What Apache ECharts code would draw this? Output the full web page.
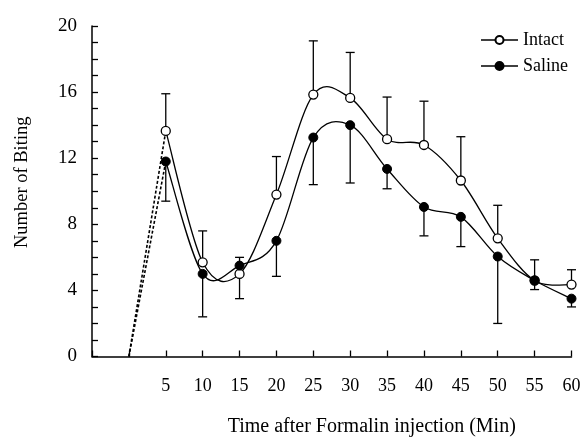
<!DOCTYPE html>
<html>
<head>
<meta charset="utf-8">
<script src="https://cdn.jsdelivr.net/npm/echarts@6/dist/echarts.min.js"></script>
<style>html,body{margin:0;padding:0;background:#fff}#c{width:581px;height:437px}</style>
</head>
<body>
<div id="c"></div>
<script>
var times = [5, 10, 15, 20, 25, 30, 35, 40, 45, 50, 55, 60];
var intact = [13.65, 5.7, 5.0, 9.8, 15.85, 15.65, 13.15, 12.8, 10.65, 7.15, 4.6, 4.35];
var intactErrTop = [15.9, 7.6, 6.0, 12.1, 19.1, 18.4, 15.7, 15.45, 13.3, 9.15, 5.85, 5.25];
var saline = [11.8, 5.0, 5.5, 7.0, 13.25, 14.0, 11.35, 9.05, 8.45, 6.05, 4.6, 3.5];
var salineErrBottom = [9.4, 2.4, 3.5, 4.85, 10.4, 10.5, 10.15, 7.3, 6.65, 2.0, 4.05, 3.0];
var origin = [0, 0];

var font = '"Liberation Serif", "Times New Roman", serif';

function pairs(xs, ys) { return xs.map(function (x, i) { return [x, ys[i]]; }); }

var errData = [];
times.forEach(function (t, i) {
  errData.push([t, intact[i], intactErrTop[i]]);
  errData.push([t, saline[i], salineErrBottom[i]]);
});

// Catmull-Rom style smooth curve drawn through the axis scales
function splineSeries(name, ys) {
  return {
    type: 'custom', name: name + '-curve', silent: true, z: 2,
    data: pairs(times, ys),
    encode: {x: 0, y: 1},
    renderItem: function (params, api) {
      var i = params.dataIndex;
      var n = times.length;
      if (i >= n - 1) return null;
      var P = function (k) {
        k = Math.max(0, Math.min(n - 1, k));
        return api.coord([times[k], ys[k]]);
      };
      var p0 = P(i - 1), p1 = P(i), p2 = P(i + 1), p3 = P(i + 2);
      var t = 1 / 6;
      var c1 = [p1[0] + (p2[0] - p0[0]) * t, p1[1] + (p2[1] - p0[1]) * t];
      var c2 = [p2[0] - (p3[0] - p1[0]) * t, p2[1] - (p3[1] - p1[1]) * t];
      return {
        type: 'bezierCurve',
        shape: {x1: p1[0], y1: p1[1], x2: p2[0], y2: p2[1], cpx1: c1[0], cpy1: c1[1], cpx2: c2[0], cpy2: c2[1]},
        style: {stroke: '#000', lineWidth: 1.3, fill: null}
      };
    }
  };
}

var chart = echarts.init(document.getElementById('c'), null, {renderer: 'canvas'});
chart.setOption({
  animation: false,
  backgroundColor: '#fff',
  textStyle: {fontFamily: font, color: '#000'},
  grid: {left: 92, right: 9.5, top: 26, bottom: 80.5, containLabel: false, outerBoundsMode: 'none'},
  legend: {
    right: 8, top: 26, orient: 'vertical', itemWidth: 37, itemHeight: 10, itemGap: 8,
    textStyle: {fontFamily: font, fontSize: 18, color: '#000'},
    lineStyle: {color: '#000', width: 1.3, opacity: 1},
    data: ['Intact', 'Saline']
  },
  xAxis: {
    type: 'value', min: -5, max: 60, interval: 5,
    name: 'Time after Formalin injection (Min)', nameLocation: 'middle', nameGap: 60,
    nameTextStyle: {fontFamily: font, fontSize: 20, color: '#000', padding: [0, 0, 0, 80]},
    axisLine: {lineStyle: {color: '#000', width: 1.5}},
    axisTick: {inside: true, length: 6, lineStyle: {color: '#000', width: 1.3}},
    axisLabel: {margin: 21, fontFamily: font, fontSize: 18, color: '#000',
      formatter: function (v) { return v > 0 ? String(v) : ''; }},
    splitLine: {show: false}
  },
  yAxis: {
    type: 'value', min: 0, max: 20, interval: 1,
    name: 'Number of Biting', nameLocation: 'middle', nameGap: 60,
    nameTextStyle: {fontFamily: font, fontSize: 18.5, color: '#000', padding: [0, 0, 0, 18]},
    axisLine: {show: true, onZero: false, lineStyle: {color: '#000', width: 1.5}},
    axisTick: {inside: true, length: 6, lineStyle: {color: '#000', width: 1.3}},
    axisLabel: {margin: 15, fontFamily: font, fontSize: 19, color: '#000',
      formatter: function (v) { return v % 4 === 0 ? String(v) : ''; }},
    splitLine: {show: false}
  },
  series: [
    {
      type: 'custom', name: 'err', silent: true, z: 1,
      data: errData,
      encode: {x: 0, y: [1, 2]},
      renderItem: function (params, api) {
        var p1 = api.coord([api.value(0), api.value(1)]);
        var p2 = api.coord([api.value(0), api.value(2)]);
        var hw = 4.5;
        var st = {stroke: '#000', lineWidth: 1.3};
        return {type: 'group', children: [
          {type: 'line', shape: {x1: p1[0], y1: p1[1], x2: p2[0], y2: p2[1]}, style: st},
          {type: 'line', shape: {x1: p2[0] - hw, y1: p2[1], x2: p2[0] + hw, y2: p2[1]}, style: st}
        ]};
      }
    },
    {
      type: 'line', name: 'dotI', silent: true, z: 2, symbol: 'none',
      data: [origin, [times[0], intact[0]]],
      lineStyle: {color: '#000', width: 1.6, type: [3, 2]}
    },
    {
      type: 'line', name: 'dotS', silent: true, z: 2, symbol: 'none',
      data: [origin, [times[0], saline[0]]],
      lineStyle: {color: '#000', width: 1.6, type: [3, 2]}
    },
    splineSeries('Intact', intact),
    splineSeries('Saline', saline),
    {
      type: 'line', name: 'Intact', z: 3,
      data: pairs(times, intact),
      symbol: 'circle', symbolSize: 9,
      lineStyle: {color: '#000', width: 1.3, opacity: 0},
      itemStyle: {color: '#fff', borderColor: '#000', borderWidth: 1.3}
    },
    {
      type: 'line', name: 'Saline', z: 3,
      data: pairs(times, saline),
      symbol: 'circle', symbolSize: 9,
      lineStyle: {color: '#000', width: 1.3, opacity: 0},
      itemStyle: {color: '#000', borderColor: '#000', borderWidth: 1}
    }
  ]
});
</script>
</body>
</html>
